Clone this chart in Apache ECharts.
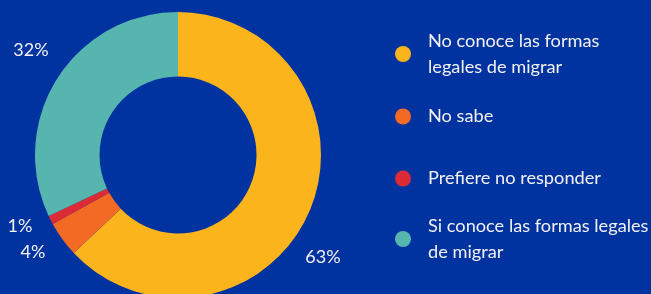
<!DOCTYPE html>
<html>
<head>
<meta charset="utf-8">
<script src="https://cdn.jsdelivr.net/npm/echarts@6/dist/echarts.min.js"></script>
<style>
	html, body { margin: 0; padding: 0; background: #0033a0; }
	#chart { width: 651px; height: 294px; }
</style>
</head>
<body>
<div id="chart"></div>
<script>
// datos de la encuesta
const categories = [
	'No conoce las formas legales de migrar',
	'No sabe',
	'Prefiere no responder',
	'Si conoce las formas legales de migrar',
];
const values = [63, 4, 1, 32];
const colors = ['#fbb41c', '#f26a24', '#dc2a36', '#57b5b0'];
// texto de la leyenda con saltos de línea
const legendText = [
	'No conoce las formas\nlegales de migrar',
	'No sabe',
	'Prefiere no responder',
	'Si conoce las formas legales\nde migrar',
];
const legendTops = [28, 103.5, 165.5, 213];
// posición (centro) de cada etiqueta de porcentaje
const labelPos = [[323, 257], [33, 252], [20, 226], [31, 50]];

const font = 'Lato';

let chart = echarts.init(document.getElementById('chart'));
chart.setOption({
	backgroundColor: '#0033a0',
	color: colors,
	// una leyenda por elemento para controlar el espaciado
	legend: categories.map((name, i) => ({
		data: [name],
		orient: 'vertical',
		left: 395,
		top: legendTops[i],
		padding: 0,
		icon: 'circle',
		itemWidth: 16,
		itemHeight: 16,
		itemGap: 0,
		selectedMode: false,
		formatter: () => legendText[i],
		textStyle: {
			color: '#f2f2f2',
			fontSize: 18.2,
			fontFamily: font,
			lineHeight: 26,
			padding: [0, 0, 0, 12],
		},
	})),
	series: [
		{
			type: 'pie',
			center: [178, 155],
			radius: [78.5, 143],
			startAngle: 90,
			clockwise: true,
			avoidLabelOverlap: false,
			data: categories.map((name, i) => ({ name: name, value: values[i] })),
			label: {
				show: true,
				position: 'outside',
				formatter: '{c}%',
				color: '#f2f2f2',
				fontSize: 18,
				fontFamily: font,
			},
			labelLine: { show: false },
			labelLayout: (p) => ({
				x: labelPos[p.dataIndex][0],
				y: labelPos[p.dataIndex][1],
				align: 'center',
				verticalAlign: 'middle',
			}),
			itemStyle: { borderWidth: 0 },
			emphasis: { disabled: true },
		},
	],
});
</script>
</body>
</html>
